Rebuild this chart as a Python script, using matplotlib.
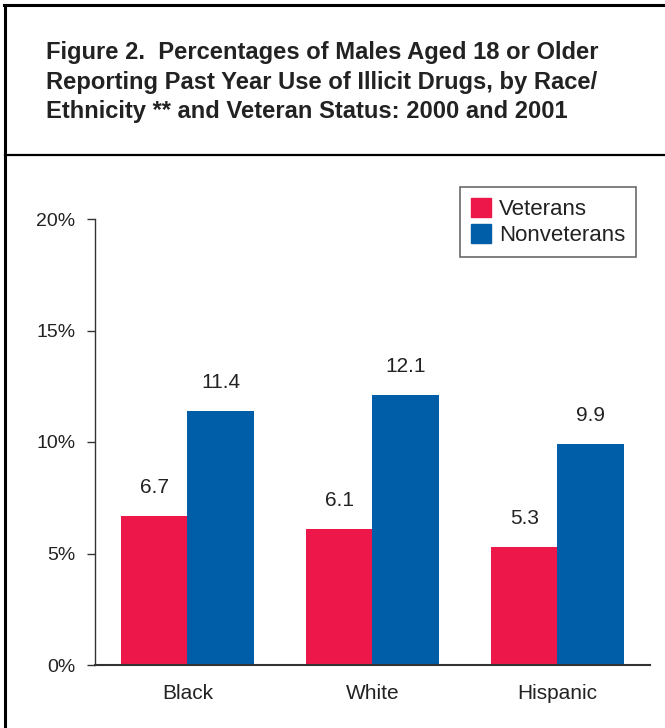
import numpy as np
import matplotlib.pyplot as plt
from matplotlib.lines import Line2D
from matplotlib.patches import Patch

# data
groups = ['Black', 'White', 'Hispanic']
veterans = [6.7, 6.1, 5.3]
nonveterans = [11.4, 12.1, 9.9]
yticks = [0, 5, 10, 15, 20]
ytick_labels = ['0%', '5%', '10%', '15%', '20%']
series_names = ['Veterans', 'Nonveterans']
title_lines = ['Figure 2.  Percentages of Males Aged 18 or Older',
               'Reporting Past Year Use of Illicit Drugs, by Race/',
               'Ethnicity ** and Veteran Status: 2000 and 2001']

red = '#ED1849'
blue = '#005DA8'
txt = '#222222'
font = 'Liberation Sans'

W, H = 665, 728
fig = plt.figure(figsize=(W / 100, H / 100), dpi=100)

# frame lines (pixel coords -> figure fraction)
def fx(px):
    return px / W

def fy(py):
    return 1 - py / H

fig.add_artist(Line2D([fx(5), fx(5)], [fy(5), 0], color='k', lw=2.2))
fig.add_artist(Line2D([fx(4), 1], [fy(5), fy(5)], color='k', lw=2.2))
fig.add_artist(Line2D([fx(5), 1], [fy(155), fy(155)], color='k', lw=1.6))

# title: scale the bold sans so the first line spans ~553 px like the original
renderer = fig.canvas.get_renderer()
for i, line in enumerate(title_lines):
    t = fig.text(fx(46), fy(59 + 29.5 * i), line, ha='left', va='baseline',
                 fontsize=17, fontweight='bold', family=font, color=txt)
    if i == 0:
        width = t.get_window_extent(renderer).width
        size = 17 * 553 / width
    t.set_fontsize(size)

ax = fig.add_axes([fx(95), fy(665), fx(650) - fx(95), fy(219) - fy(665)])
x = np.arange(len(groups))
w = 0.36
b1 = ax.bar(x - w / 2, veterans, w, color=red)
b2 = ax.bar(x + w / 2, nonveterans, w, color=blue)

for bars, vals in ((b1, veterans), (b2, nonveterans)):
    for r, v in zip(bars, vals):
        ax.text(r.get_x() + r.get_width() / 2, v + 0.85, f'{v:.1f}',
                ha='center', va='bottom', fontsize=15, color=txt, family=font)

ax.set_xlim(-0.5, 2.5)
ax.set_ylim(0, 20)
ax.set_yticks(yticks)
ax.set_yticklabels(ytick_labels, family=font, fontsize=14, color=txt)
ax.set_xticks(x)
ax.set_xticklabels(groups, family=font, fontsize=15, color=txt)
ax.tick_params(axis='x', length=0, pad=14)
ax.tick_params(axis='y', length=6, width=1, pad=8, color='#333333')
for s in ['top', 'right']:
    ax.spines[s].set_visible(False)
ax.spines['left'].set_color('#333333')
ax.spines['bottom'].set_color('#333333')
ax.spines['left'].set_linewidth(1)
ax.spines['bottom'].set_linewidth(1.5)

handles = [Patch(color=red), Patch(color=blue)]
leg = fig.legend(handles, series_names, loc='upper left',
                 bbox_to_anchor=(fx(460), fy(187)), frameon=True, fancybox=False,
                 prop={'family': font, 'size': 16},
                 handlelength=0.9, handleheight=0.9, handletextpad=0.35,
                 labelspacing=0.2, borderpad=0.5, borderaxespad=0)
leg.get_frame().set_edgecolor('#444444')
leg.get_frame().set_linewidth(1.2)
for t in leg.get_texts():
    t.set_color(txt)

fig.savefig('out.png', dpi=100)
